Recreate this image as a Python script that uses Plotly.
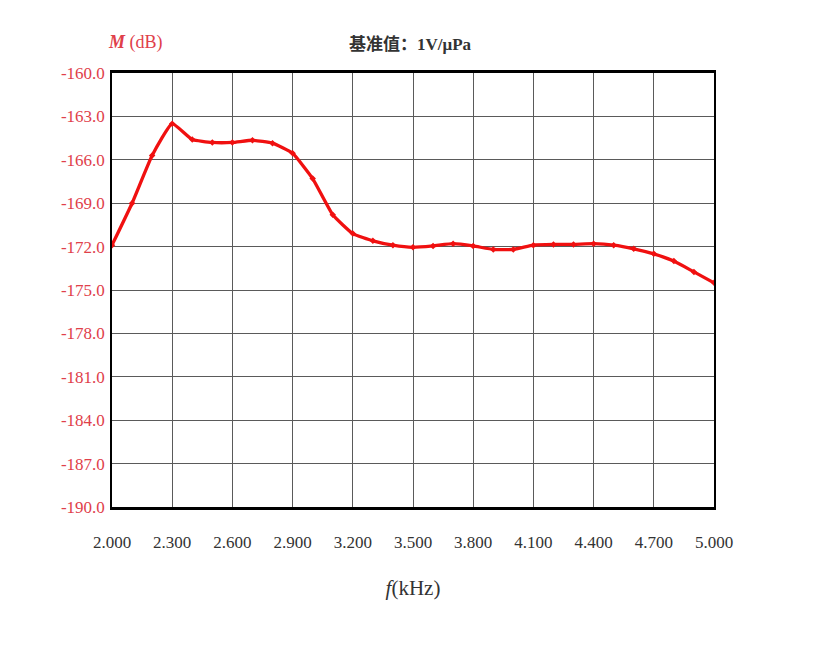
import plotly.graph_objects as go

freq_khz = [2.0, 2.1, 2.2, 2.3, 2.4, 2.5, 2.6, 2.7, 2.8, 2.9, 3.0, 3.1, 3.2, 3.3, 3.4, 3.5,
            3.6, 3.7, 3.8, 3.9, 4.0, 4.1, 4.2, 4.3, 4.4, 4.5, 4.6, 4.7, 4.8, 4.9, 5.0]
sensitivity_db = [-171.9, -169.0, -165.7, -163.5, -164.6, -164.8, -164.8, -164.65, -164.85, -165.55,
                  -167.3, -169.8, -171.1, -171.6, -171.9, -172.05,
                  -171.95, -171.8, -171.95, -172.2, -172.2, -171.9, -171.85, -171.85, -171.8, -171.9,
                  -172.15, -172.5, -173.0, -173.75, -174.5]

x_tick_vals = [2.0, 2.3, 2.6, 2.9, 3.2, 3.5, 3.8, 4.1, 4.4, 4.7, 5.0]
x_tick_text = ["2.000", "2.300", "2.600", "2.900", "3.200", "3.500", "3.800", "4.100", "4.400", "4.700", "5.000"]
y_tick_vals = [-160, -163, -166, -169, -172, -175, -178, -181, -184, -187, -190]
y_tick_text = ["-160.0", "-163.0", "-166.0", "-169.0", "-172.0", "-175.0", "-178.0", "-181.0", "-184.0", "-187.0", "-190.0"]

RED = "#f01010"
LABEL_RED = "#e0404a"
FONT = "Liberation Serif"

L, T, W, H = 104, 65, 602, 434

fig = go.Figure()
fig.add_trace(go.Scatter(
    x=freq_khz, y=sensitivity_db, mode="lines+markers",
    line=dict(color=RED, width=3.3, shape="spline", smoothing=0.4),
    marker=dict(color=RED, size=5, symbol="diamond"),
    showlegend=False, hoverinfo="skip"))

fig.update_layout(
    width=830, height=648,
    margin=dict(l=L, r=830 - L - W, t=T, b=648 - T - H),
    paper_bgcolor="white", plot_bgcolor="white",
    font=dict(family=FONT, size=16, color="#333333"),
    xaxis=dict(range=[2.0, 5.0], tickvals=x_tick_vals, ticktext=x_tick_text,
               showgrid=True, gridcolor="#5a5a5a", gridwidth=1,
               showline=True, linecolor="black", linewidth=3, mirror=True,
               ticks="", ticklabelstandoff=18, zeroline=False,
               tickfont=dict(family=FONT, size=17, color="#333333"),
               title=dict(text="<i>f</i>(kHz)", font=dict(family=FONT, size=21, color="#333333"), standoff=29)),
    yaxis=dict(range=[-190, -160], tickvals=y_tick_vals, ticktext=y_tick_text,
               showgrid=True, gridcolor="#5a5a5a", gridwidth=1,
               showline=True, linecolor="black", linewidth=1.5, mirror=True,
               ticks="", ticklabelstandoff=2, zeroline=False,
               tickfont=dict(family=FONT, size=17, color=LABEL_RED)),
    annotations=[
        dict(text="<b><i>M</i></b> (dB)", x=(135 - 112) / W, y=(507 - 42) / H,
             xref="paper", yref="paper", xanchor="center", yanchor="middle",
             showarrow=False, font=dict(family=FONT, size=18, color=LABEL_RED)),
        dict(text="<b>基准值：</b><b><span style=\"font-family:'Liberation Serif'\">1V/μPa</span></b>",
             x=(410 - 112) / W, y=(507 - 42) / H,
             xref="paper", yref="paper", xanchor="center", yanchor="middle",
             showarrow=False, font=dict(family="Noto Sans CJK SC", size=17, color="#333333")),
    ],
)

fig.write_html("out.html")
